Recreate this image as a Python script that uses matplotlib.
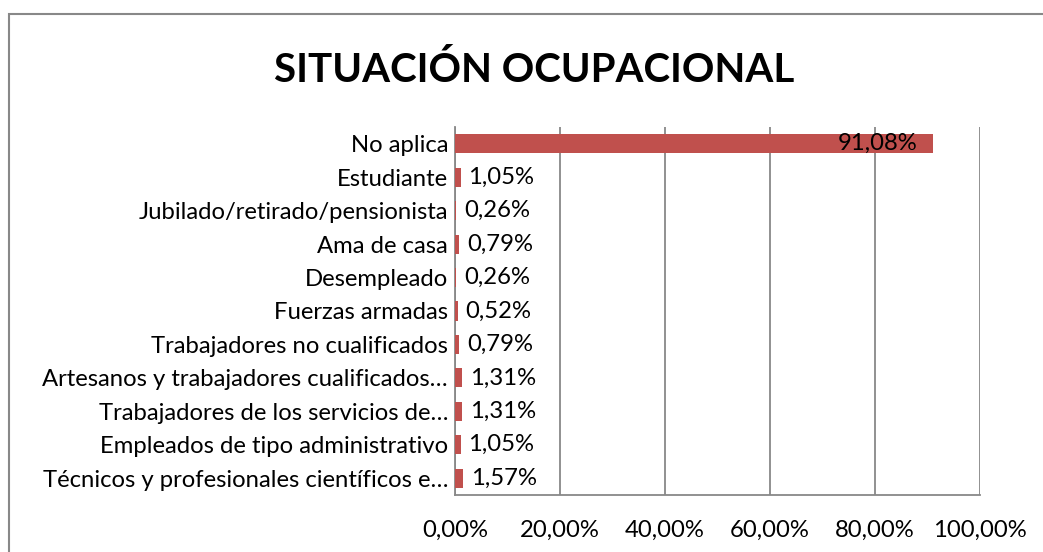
import matplotlib
matplotlib.use("Agg")
import matplotlib.pyplot as plt
from matplotlib.patches import Rectangle

categories = [
    "No aplica",
    "Estudiante",
    "Jubilado/retirado/pensionista",
    "Ama de casa",
    "Desempleado",
    "Fuerzas armadas",
    "Trabajadores no cualificados",
    "Artesanos y trabajadores cualificados…",
    "Trabajadores de los servicios de…",
    "Empleados de tipo administrativo",
    "Técnicos y profesionales científicos e…",
]
values = [91.08, 1.05, 0.26, 0.79, 0.26, 0.52, 0.79, 1.31, 1.31, 1.05, 1.57]
xticks = [0, 20, 40, 60, 80, 100]
title = "SITUACIÓN OCUPACIONAL"

plt.rcParams['font.family'] = ['Lato', 'DejaVu Sans']

W, H = 1043, 552
fig = plt.figure(figsize=(W / 100, H / 100), dpi=100)
fig.patch.set_facecolor("white")

# outer border
fig.patches.append(Rectangle((9 / W, -0.05), 1.2, (H - 14) / H + 0.05,
                             transform=fig.transFigure, fill=False,
                             edgecolor="#888888", linewidth=1.5))

left, right, top, bottom = 455, 980, 127, 495
ax = fig.add_axes([left / W, 1 - bottom / H, (right - left) / W, (bottom - top) / H])

bar_color = "#C0504D"
fs = 17.2
n = len(categories)
ypos = list(range(n))
ax.barh(ypos, values, height=0.57, color=bar_color, zorder=3)
ax.set_ylim(n - 0.5, -0.5)
ax.set_xlim(0, 100)

ax.set_yticks(ypos)
ax.set_yticklabels(categories, fontsize=fs)
ax.set_xticks(xticks)
ax.set_xticklabels([f"{t:.2f}%".replace(".", ",") for t in xticks], fontsize=fs)
ax.tick_params(axis="both", length=0, colors="black")
ax.tick_params(axis="y", pad=5)
ax.tick_params(axis="x", pad=18)

ax.grid(axis="x", color="#888888", linewidth=1.3, zorder=0)
for s in ["top", "right"]:
    ax.spines[s].set_visible(False)
for s in ["left", "bottom"]:
    ax.spines[s].set_color("#888888")
    ax.spines[s].set_linewidth(1.3)

for y, v in zip(ypos, values):
    lab = f"{v:.2f}%".replace(".", ",")
    if v > 50:
        ax.text(v - 3.0, y, lab, ha="right", va="center", fontsize=fs, zorder=4)
    else:
        ax.text(v + 1.5, y, lab, ha="left", va="center", fontsize=fs, zorder=4)

fig.text(534 / W, 1 - 70 / H, title, ha="center", va="center",
         fontsize=29, fontweight="bold")

fig.savefig("out.png", dpi=100)
